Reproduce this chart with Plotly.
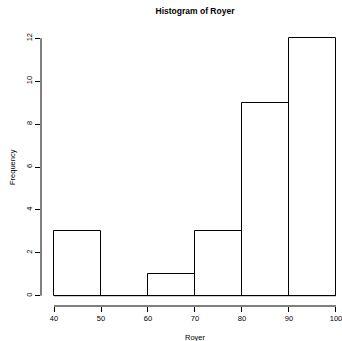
import plotly.graph_objects as go

breaks = [40, 50, 60, 70, 80, 90, 100]
counts = [3, 0, 1, 3, 9, 12]
x_ticks = [40, 50, 60, 70, 80, 90, 100]
y_ticks = [0, 2, 4, 6, 8, 10, 12]

centers = [(a + b) / 2 for a, b in zip(breaks[:-1], breaks[1:])]
widths = [b - a for a, b in zip(breaks[:-1], breaks[1:])]

FONT = "Liberation Sans, Arial, sans-serif"
TXT = "#000000"

fig = go.Figure()
fig.add_trace(go.Bar(
    x=centers, y=counts, width=widths,
    marker=dict(color="white", line=dict(color="black", width=1)),
    showlegend=False, hoverinfo="skip",
))

W, H = 342, 341
L, R, T, B = 41, 0, 28, 35
pw = W - L - R
ph = H - T - B

fig.update_layout(
    width=W, height=H,
    margin=dict(l=L, r=R, t=T, b=B, pad=0),
    plot_bgcolor="white", paper_bgcolor="white",
    font=dict(family=FONT, size=7.5, color=TXT),
    bargap=0,
    xaxis=dict(range=[37.234, 101.28], tickvals=x_ticks, ticktext=[str(v) for v in x_ticks],
               ticks="outside", ticklen=5, tickcolor="black", tickwidth=1,
               ticklabeloverflow="allow",
               showgrid=False, zeroline=False, showline=False,
               tickfont=dict(size=7.5, color=TXT, family=FONT)),
    yaxis=dict(range=[-0.48, 12.48], tickvals=y_ticks, ticktext=[str(v) for v in y_ticks],
               ticks="outside", ticklen=5, tickcolor="black", tickwidth=1,
               tickangle=-90, ticklabeloverflow="allow",
               showgrid=False, zeroline=False, showline=False,
               tickfont=dict(size=7.5, color=TXT, family=FONT)),
    title=dict(text="<b>Histogram of Royer</b>", x=195 / W, xref="container", xanchor="center",
               y=1 - 10.7 / H, yref="container", yanchor="middle",
               font=dict(size=8.5, family=FONT, color=TXT)),
)

# R-style axis lines spanning first to last tick
fig.add_shape(type="line", xref="x", yref="paper", x0=x_ticks[0], x1=x_ticks[-1], y0=0, y1=0,
              line=dict(color="black", width=1))
fig.add_shape(type="line", xref="paper", yref="y", x0=0, x1=0, y0=y_ticks[0], y1=y_ticks[-1],
              line=dict(color="black", width=1))
# baseline for empty bins
fig.add_shape(type="line", xref="x", yref="y", x0=breaks[0], x1=breaks[-1], y0=0, y1=0,
              line=dict(color="black", width=1))

fig.add_annotation(text="Royer", xref="paper", yref="paper",
                   x=(195 - L) / pw, y=-(337 - (T + ph)) / ph,
                   xanchor="center", yanchor="middle", showarrow=False,
                   font=dict(size=7.5, color=TXT, family=FONT))
fig.add_annotation(text="Frequency", xref="paper", yref="paper",
                   x=(12 - L) / pw, y=0.5, textangle=-90,
                   xanchor="center", yanchor="middle", showarrow=False,
                   font=dict(size=7.5, color=TXT, family=FONT))

fig.write_html("out.html")
